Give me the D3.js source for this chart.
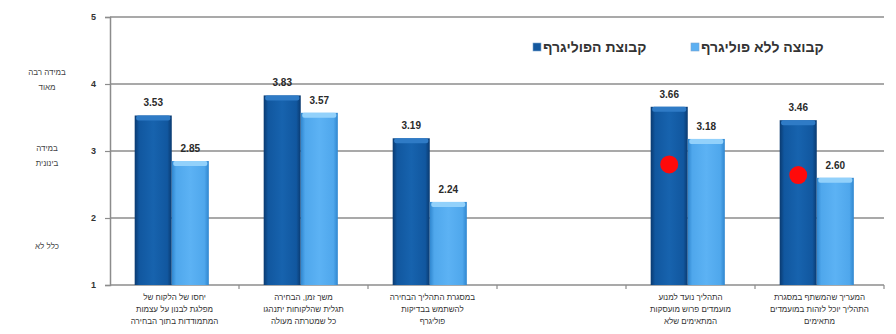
<!DOCTYPE html>
<html lang="he">
<head>
<meta charset="utf-8">
<script src="https://cdn.jsdelivr.net/npm/d3@7"></script>
<style>
  html, body { margin: 0; padding: 0; background: #fff; }
  svg { display: block; font-family: "Liberation Sans", Arial, "DejaVu Sans", sans-serif; }
</style>
</head>
<body>
<svg id="chart" width="896" height="334"></svg>
<script>
// Survey statements (one label per category, split into lines); the 4th slot is an empty gap
const categories = ["c1", "c2", "c3", "gap", "c5", "c6"];
const categoryLines = [
  ["יחסו של הלקוח של", "מפלגת לבנון על עצמות", "המתמודדות בתוך הבחירה"],
  ["משך זמן, הבחירה", "תגלית שהלקוחות יתנהגו", "כל שמטרתה מעולה"],
  ["במסגרת התהליך הבחירה", "להשתמש בבדיקות", "פוליגרף"],
  [],
  ["התהליך נועד למנוע", "מועמדים פרוש מועסקות", "המתאימים שלא"],
  ["המעריך שהמשתף במסגרת", "התהליך יוכל לזהות במועמדים", "מתאימים"]
];
const seriesNames = ["קבוצת הפוליגרף", "קבוצה ללא פוליגרף"];
const polygraphValues = [3.53, 3.83, 3.19, null, 3.66, 3.46];
const noPolygraphValues = [2.85, 3.57, 2.24, null, 3.18, 2.60];
// Red highlight dots placed on the polygraph bars
const highlightValues = [null, null, null, null, 2.80, 2.64];
const yTicks = [1, 2, 3, 4, 5];
const scaleLabels = [
  { value: 4.04, lines: ["במידה רבה", "מאוד"] },
  { value: 2.91, lines: ["במידה", "בינונית"] },
  { value: 1.53, lines: ["כלל לא"] }
];

const svg = d3.select("#chart");
const margin = { left: 110, right: 12, top: 17, bottom: 49 };
const W = 896, H = 334;

const x = d3.scaleBand().domain(categories).range([margin.left, W - margin.right]).paddingInner(0).paddingOuter(0);
const inner = d3.scaleBand().domain([0, 1]).range([0, x.bandwidth()]).paddingOuter(0.74).paddingInner(0).align(0.45);
const y = d3.scaleLinear().domain([1, 5]).range([H - margin.bottom, margin.top]);

// Gradients giving the bars a bevelled, cylindrical look
const defs = svg.append("defs");
function hGrad(id, stops) {
  const g = defs.append("linearGradient").attr("id", id).attr("x1", "0").attr("x2", "1").attr("y1", "0").attr("y2", "0");
  stops.forEach(([o, c]) => g.append("stop").attr("offset", o).attr("stop-color", c));
}
hGrad("gDark", [[0, "#0a3a70"], [0.12, "#11579f"], [0.5, "#1763ae"], [0.88, "#11579f"], [1, "#0a3a70"]]);
hGrad("gLight", [[0, "#2f86cf"], [0.12, "#4fa7ec"], [0.5, "#5cb2f4"], [0.88, "#4fa7ec"], [1, "#2f86cf"]]);
const fills = ["url(#gDark)", "url(#gLight)"];
const capFills = ["#2f7bc6", "#92d1fb"];
const swatch = ["#14589e", "#5cb0f2"];

// Horizontal gridlines
svg.append("g").selectAll("line").data(yTicks.filter(t => t > 1)).join("line")
  .attr("x1", margin.left).attr("x2", W - margin.right)
  .attr("y1", d => y(d)).attr("y2", d => y(d))
  .attr("stroke", "#8c8c8c").attr("stroke-width", 1.5);

// Y axis
const yAxis = svg.append("g").attr("transform", `translate(${margin.left},0)`)
  .call(d3.axisLeft(y).tickValues(yTicks).tickFormat(d3.format("d")).tickSize(5).tickPadding(9));
yAxis.select(".domain").attr("stroke", "#8c8c8c").attr("stroke-width", 1.5);
yAxis.selectAll(".tick line").attr("stroke", "#8c8c8c").attr("stroke-width", 1.2);
yAxis.selectAll(".tick text").attr("font-size", 9).attr("font-weight", "bold").attr("fill", "#333");

// Scale descriptions left of the axis
const scaleG = svg.append("g");
scaleLabels.forEach(s => {
  const t = scaleG.append("text").attr("x", 47).attr("y", y(s.value) - (s.lines.length - 1) * 6.5)
    .attr("text-anchor", "middle").attr("font-size", 8).attr("fill", "#444");
  s.lines.forEach((ln, i) => t.append("tspan").attr("x", 47).attr("dy", i === 0 ? 0 : 15).text(ln));
});

// Bottom axis line with separators between categories
const baseY = y(1);
svg.append("line").attr("x1", margin.left).attr("x2", W - margin.right)
  .attr("y1", baseY).attr("y2", baseY).attr("stroke", "#8c8c8c").attr("stroke-width", 1.5);
svg.append("g").selectAll("line").data(categories.slice(1).concat(["end"])).join("line")
  .attr("x1", (d, i) => margin.left + x.bandwidth() * (i + 1))
  .attr("x2", (d, i) => margin.left + x.bandwidth() * (i + 1))
  .attr("y1", baseY).attr("y2", baseY + 4)
  .attr("stroke", "#8c8c8c").attr("stroke-width", 1.2);

// Bars
const rows = categories.map((c, i) => ({ c, vals: [polygraphValues[i], noPolygraphValues[i]], hl: highlightValues[i] }));
const groups = svg.append("g").selectAll("g").data(rows).join("g")
  .attr("transform", d => `translate(${x(d.c)},0)`);

groups.each(function (d) {
  const g = d3.select(this);
  d.vals.forEach((v, k) => {
    if (v == null) return;
    const bx = inner(k), bw = inner.bandwidth();
    g.append("rect").attr("x", bx).attr("y", y(v)).attr("width", bw).attr("height", baseY - y(v))
      .attr("fill", fills[k]);
    g.append("rect").attr("x", bx + 1.5).attr("y", y(v)).attr("width", bw - 3).attr("height", 5)
      .attr("rx", 2).attr("fill", capFills[k]);
    g.append("text").attr("x", bx + bw / 2).attr("y", y(v) - 9)
      .attr("text-anchor", "middle").attr("font-size", 10).attr("font-weight", "bold").attr("fill", "#2a2a2a")
      .text(d3.format(".2f")(v));
  });
  if (d.hl != null) {
    g.append("circle").attr("cx", inner(0) + inner.bandwidth() / 2).attr("cy", y(d.hl)).attr("r", 9)
      .attr("fill", "#ff0a0a");
  }
});

// Category labels
const labelG = svg.append("g");
categories.forEach((c, i) => {
  const cx = x(c) + x.bandwidth() / 2;
  const t = labelG.append("text").attr("x", cx).attr("y", 300).attr("text-anchor", "middle")
    .attr("font-size", 8).attr("fill", "#333");
  categoryLines[i].forEach((ln, j) => t.append("tspan").attr("x", cx).attr("dy", j === 0 ? 0 : 12).text(ln));
});

// Legend
const legendItems = [
  { name: seriesNames[0], color: swatch[0], x: 533 },
  { name: seriesNames[1], color: swatch[1], x: 691 }
];
const legend = svg.append("g");
legendItems.forEach(it => {
  legend.append("rect").attr("x", it.x).attr("y", 43).attr("width", 8).attr("height", 8)
    .attr("fill", it.color).attr("stroke", "#7aa6d0").attr("stroke-width", 0.6);
  legend.append("text").attr("x", it.x + 10).attr("y", 52).attr("font-size", 14).attr("font-weight", "bold")
    .attr("fill", "#333").text(it.name);
});
</script>
</body>
</html>
